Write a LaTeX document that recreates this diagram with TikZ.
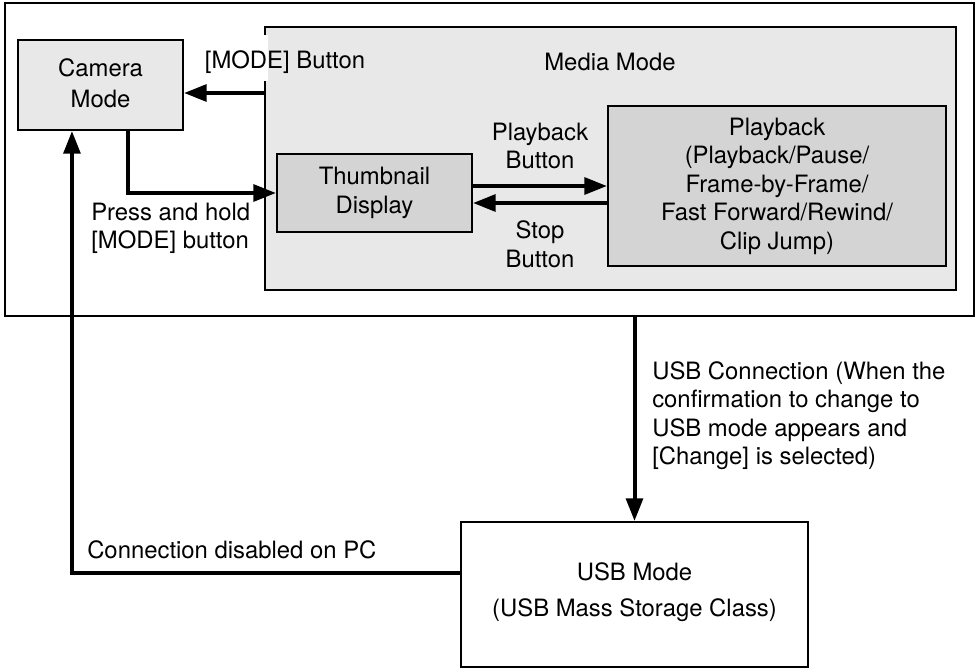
\documentclass[tikz,border=0pt]{standalone}
\usepackage{fontspec}
\setmainfont{TeX Gyre Heros}
\usepackage{tikz}
\usetikzlibrary{calc}
\usetikzlibrary{positioning}
\usetikzlibrary{arrows.meta}

\begin{document}
\begin{tikzpicture}[x=0.75pt,y=-0.75pt,
  box/.style={draw,line width=1.5pt,rectangle,inner sep=0pt,align=center,
    font=\fontsize{17.9}{21.4}\selectfont},
  txt/.style={inner sep=0pt,font=\fontsize{17.9}{21.4}\selectfont},
  flow/.style={line width=3pt,-{Triangle[length=17pt,width=12.5pt]}},
  line/.style={line width=3pt}]

\useasboundingbox (0,0) rectangle (980,668);

% outer frame
\node[box,minimum width=726.75pt,minimum height=234.75pt] (frame) at (489.5,159.5) {};

% media mode box
\node[box,fill=black!9,minimum width=518.25pt,minimum height=197.25pt] (media) at (610.5,158.5) {};
\node[txt] (mediatitle) at (610,62) {Media Mode};

% camera mode box
\node[box,fill=black!9,minimum width=123.75pt,minimum height=67.5pt] (camera) at (100.5,85) {Camera\\[2pt]Mode\\[-18pt]};

% thumbnail and playback
\node[box,fill=black!17,minimum width=146.25pt,minimum height=58.5pt] (thumb) at (374.5,193) {Thumbnail\\Display};
\node[box,fill=black!17,minimum width=253.5pt,minimum height=120pt] (play) at (777,186)
  {Playback\\(Playback/Pause/\\Frame-by-Frame/\\Fast Forward/Rewind/\\Clip Jump)};

% usb mode box
\node[box,fill=white,minimum width=260.25pt,minimum height=108.75pt] (usb) at (634.5,594.5)
  {USB Mode\\[5pt](USB Mass Storage Class)\\[-14pt]};

% mode button: media -> camera
\fill[white] (262,35) rectangle (268,81);
\node[txt] (modelbl) at (285,62) {[MODE] Button};
\draw[flow] ([yshift=-6pt]camera.east -| media.west) -- ([yshift=-6pt]camera.east);

% press and hold: camera -> thumbnail
\draw[flow] ([xshift=20.6pt]camera.south) |- (thumb.west);
\node[txt,anchor=west,align=left] (holdlbl) at (91,228.5) {Press and hold\\{[MODE]} button};

% playback / stop
\draw[flow] ([yshift=5.25pt]thumb.east) -- ([yshift=5.25pt]thumb.east -| play.west);
\draw[flow] ([yshift=-7.5pt]thumb.east -| play.west) -- ([yshift=-7.5pt]thumb.east);
\node[txt,align=center] (playlbl) at (540,146) {Playback\\Button};
\node[txt,align=center] (stoplbl) at (540,244) {Stop\\Button};

% usb connection
\draw[flow] (frame.south -| usb.north) -- (usb.north);
\node[txt,anchor=north west,align=left] (usblbl) at (652,361)
  {USB Connection (When the\\confirmation to change to\\USB mode appears and\\{[Change]} is selected)};

% back to camera mode
\draw[flow] ([yshift=16pt]usb.west) -| ([xshift=-21.4pt]camera.south);
\node[txt,anchor=west] (disclbl) at (87,550) {Connection disabled on PC};

\end{tikzpicture}
\end{document}
